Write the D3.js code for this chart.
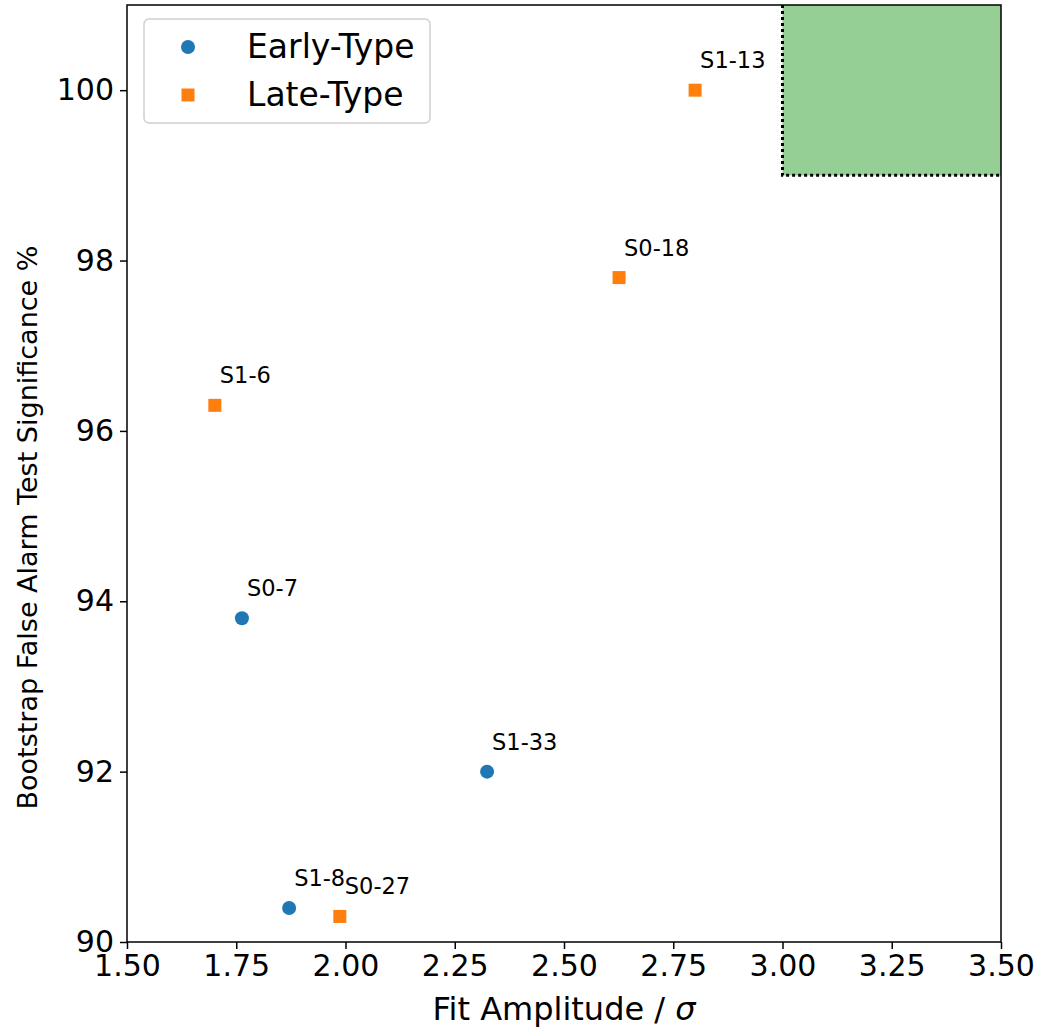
<!DOCTYPE html>
<html>
<head>
<meta charset="utf-8">
<script src="https://cdn.jsdelivr.net/npm/d3@7"></script>
<style>
  html, body { margin: 0; padding: 0; background: #fff; }
  svg { display: block; font-family: "DejaVu Sans", sans-serif; }
</style>
</head>
<body>
<svg id="chart" width="1043" height="1032"></svg>
<script>
// Sources and their measurements
const names      = ["S0-7", "S1-33", "S1-8", "S1-13", "S0-18", "S1-6", "S0-27"];
const amplitudes = [1.763, 2.324, 1.871, 2.800, 2.626, 1.701, 1.987];
const falseAlarm = [93.8, 92.0, 90.4, 100.0, 97.8, 96.3, 90.3];
const types      = ["Early-Type", "Early-Type", "Early-Type", "Late-Type", "Late-Type", "Late-Type", "Late-Type"];

const legendLabels = ["Early-Type", "Late-Type"];
const xTicks = [1.50, 1.75, 2.00, 2.25, 2.50, 2.75, 3.00, 3.25, 3.50];
const yTicks = [90, 92, 94, 96, 98, 100];
const xDomain = [1.5, 3.5];
const yDomain = [90, 101];
// Region of interest: high amplitude and high significance
const regionX = [3.0, 3.5];
const regionY = [99, 101];

const colors = { "Early-Type": "#1f77b4", "Late-Type": "#ff7f0e" };

const svg = d3.select("#chart");
const margin = { left: 127, right: 42, top: 5, bottom: 90 };
const W = 1043, H = 1032;

const x = d3.scaleLinear().domain(xDomain).range([margin.left, W - margin.right]);
const y = d3.scaleLinear().domain(yDomain).range([H - margin.bottom, margin.top]);

const rows = names.map((n, i) => ({ name: n, a: amplitudes[i], f: falseAlarm[i], type: types[i] }));

// Shaded region
svg.append("rect")
  .attr("x", x(regionX[0])).attr("y", y(regionY[1]))
  .attr("width", x(regionX[1]) - x(regionX[0]))
  .attr("height", y(regionY[0]) - y(regionY[1]))
  .attr("fill", "#2ca02c").attr("fill-opacity", 0.5);

svg.append("path")
  .attr("d", d3.line()([[x(regionX[0]), y(regionY[1])], [x(regionX[0]), y(regionY[0])], [x(regionX[1]), y(regionY[0])]]))
  .attr("fill", "none").attr("stroke", "#000").attr("stroke-width", 3)
  .attr("stroke-dasharray", "3,3");

// Axes
const xAxis = svg.append("g")
  .attr("transform", `translate(0,${H - margin.bottom})`)
  .call(d3.axisBottom(x).tickValues(xTicks).tickFormat(d3.format(".2f")).tickSizeOuter(0).tickSize(7).tickPadding(6));
const yAxis = svg.append("g")
  .attr("transform", `translate(${margin.left},0)`)
  .call(d3.axisLeft(y).tickValues(yTicks).tickFormat(d3.format("d")).tickSizeOuter(0).tickSize(7).tickPadding(6));

[xAxis, yAxis].forEach(g => {
  g.select(".domain").remove();
  g.selectAll(".tick line").attr("stroke", "#000").attr("stroke-width", 1.5);
  g.selectAll(".tick text").attr("fill", "#000").style("font-size", "30px")
    .style("font-family", "'DejaVu Sans', sans-serif");
});

// Frame
svg.append("rect")
  .attr("x", x(xDomain[0])).attr("y", y(yDomain[1]))
  .attr("width", x(xDomain[1]) - x(xDomain[0]))
  .attr("height", y(yDomain[0]) - y(yDomain[1]))
  .attr("fill", "none").attr("stroke", "#000").attr("stroke-width", 1.5);

// Axis titles
svg.append("text")
  .attr("x", (x(xDomain[0]) + x(xDomain[1])) / 2).attr("y", 1020)
  .attr("text-anchor", "middle").style("font-size", "32px")
  .html('Fit Amplitude / <tspan font-style="italic">σ</tspan>');

svg.append("text")
  .attr("transform", `translate(37,${(y(yDomain[0]) + y(yDomain[1])) / 2 + 54}) rotate(-90)`)
  .attr("text-anchor", "middle").style("font-size", "27px")
  .text("Bootstrap False Alarm Test Significance %");

// Markers
const pts = svg.append("g");
rows.filter(d => d.type === "Early-Type").forEach(d => {
  pts.append("circle").attr("cx", x(d.a)).attr("cy", y(d.f)).attr("r", 7)
    .attr("fill", colors[d.type]);
});
rows.filter(d => d.type === "Late-Type").forEach(d => {
  pts.append("rect").attr("x", x(d.a) - 6.5).attr("y", y(d.f) - 6.5)
    .attr("width", 13).attr("height", 13).attr("fill", colors[d.type]);
});

// Point labels
svg.append("g").selectAll("text").data(rows).join("text")
  .attr("x", d => x(d.a) + 5).attr("y", d => y(d.f) - 22)
  .style("font-size", "22.5px").attr("fill", "#000")
  .text(d => d.name);

// Legend
const lg = svg.append("g");
lg.append("rect").attr("x", 144).attr("y", 19).attr("width", 286).attr("height", 104)
  .attr("rx", 5).attr("fill", "#fff").attr("fill-opacity", 0.8)
  .attr("stroke", "#d0d0d0").attr("stroke-width", 1.5);
legendLabels.forEach((lab, i) => {
  const cy = 47 + i * 48;
  if (i === 0) {
    lg.append("circle").attr("cx", 188).attr("cy", cy).attr("r", 7).attr("fill", colors[lab]);
  } else {
    lg.append("rect").attr("x", 181.5).attr("y", cy - 6.5).attr("width", 13).attr("height", 13).attr("fill", colors[lab]);
  }
  lg.append("text").attr("x", 247).attr("y", cy + 11).style("font-size", "33px").text(lab);
});
</script>
</body>
</html>
